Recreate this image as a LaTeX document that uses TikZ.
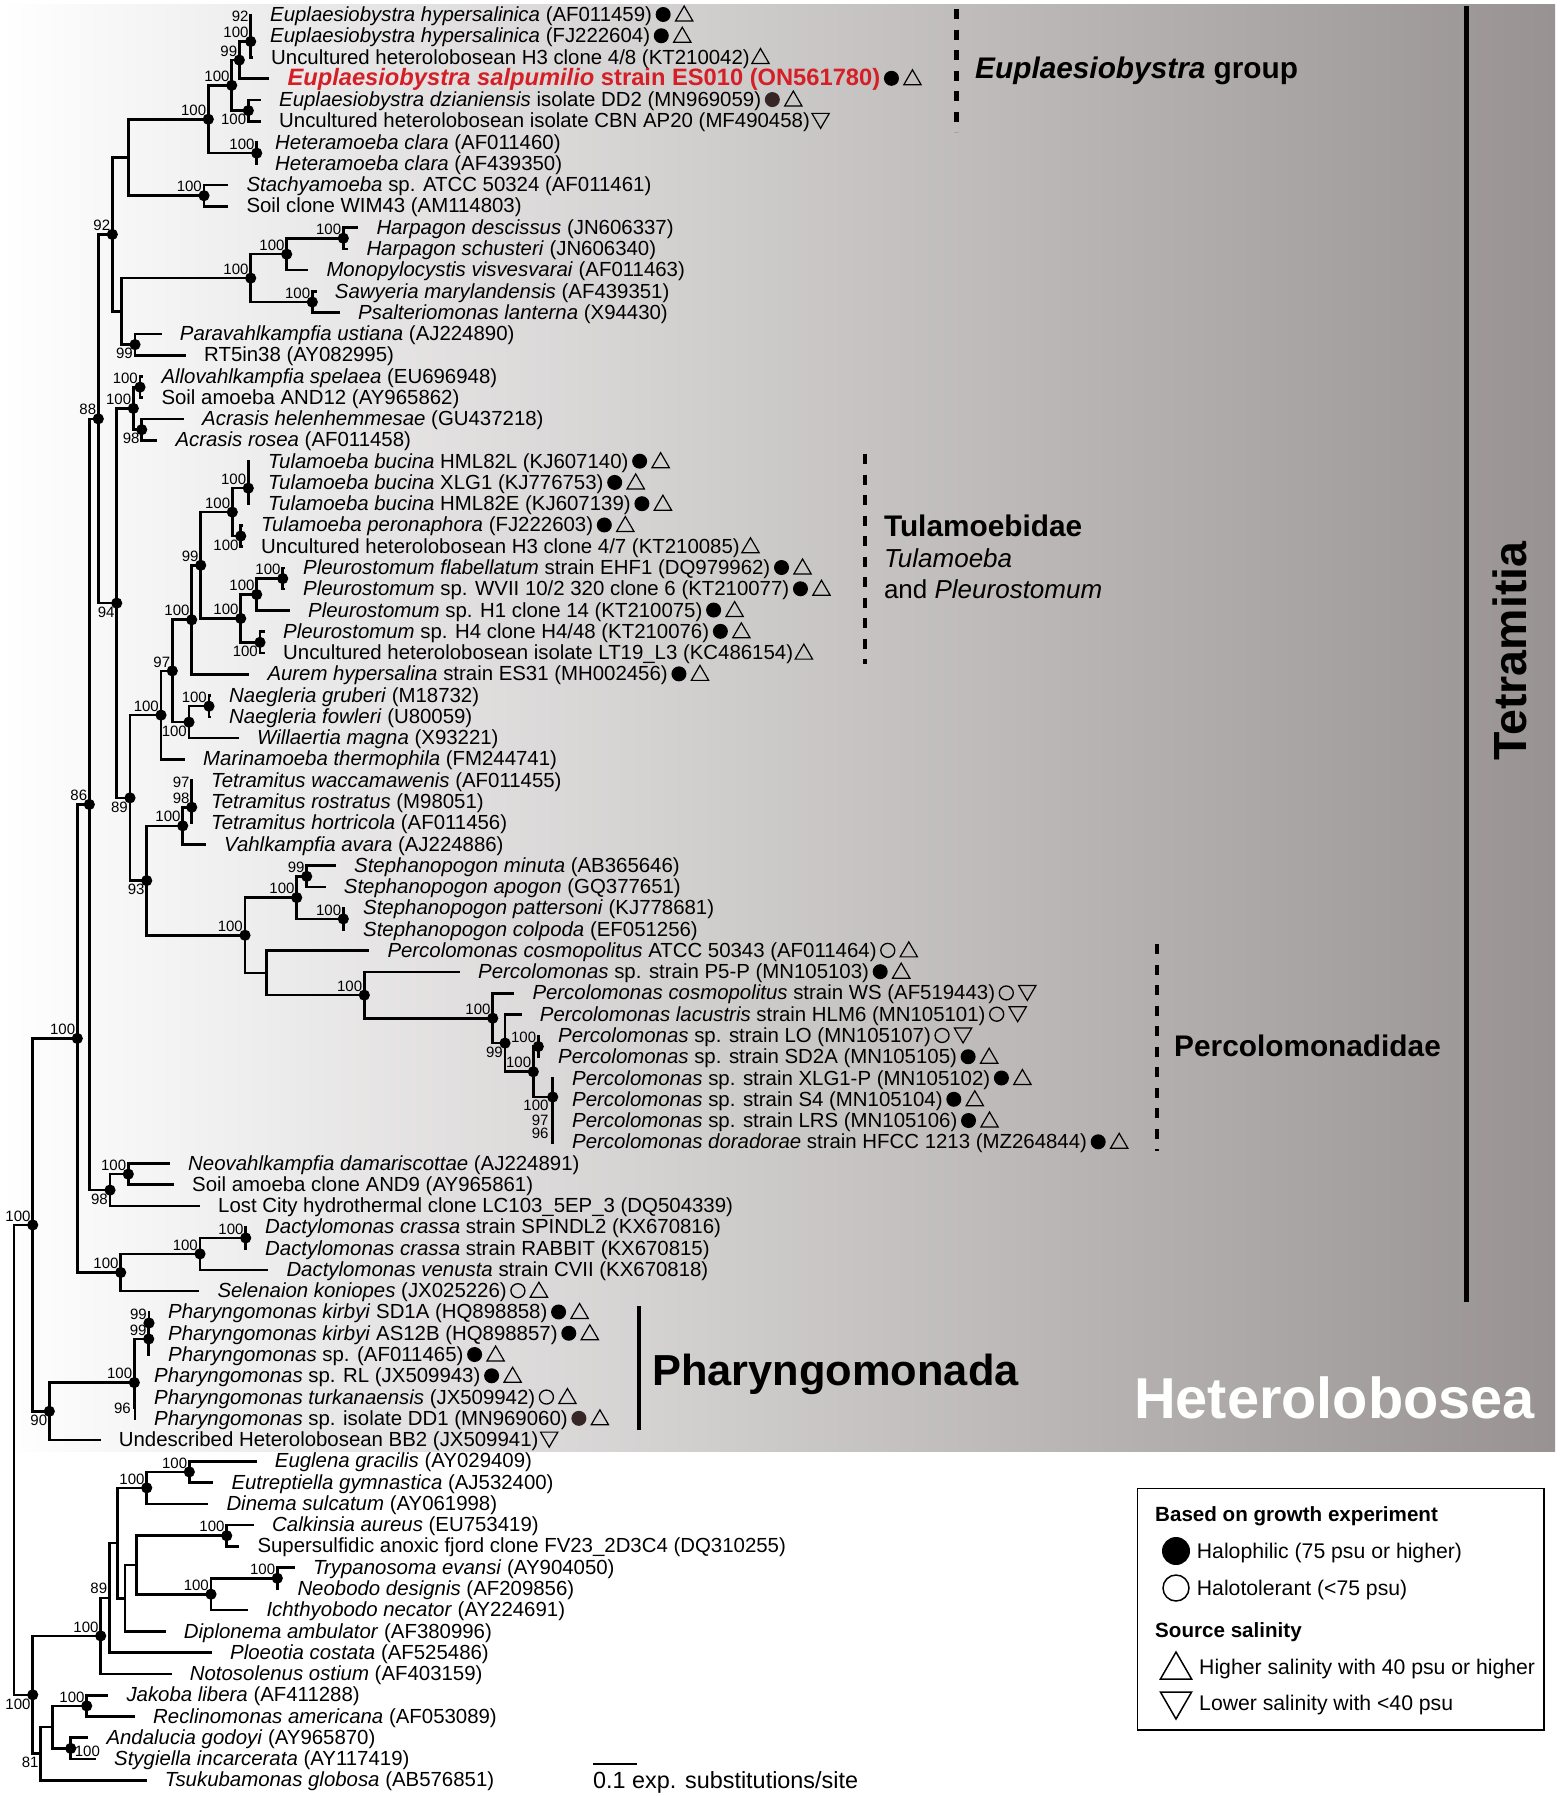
\documentclass[tikz,border=0pt]{standalone}
\usepackage{fontspec}
\setmainfont{Liberation Sans}
\usetikzlibrary{shapes.geometric}
\definecolor{redt}{RGB}{213,30,38}
\definecolor{bgr}{RGB}{152,147,146}
\definecolor{dbrown}{RGB}{55,38,38}
\newcommand\lfont{\fontsize{20.4}{22}\selectfont}
\newcommand\bsfont{\fontsize{15}{16}\selectfont}
\newcommand\lf[3]{\coordinate (t#1) at (#2,#1); \node[lt] (l#1) at ([xshift=18pt,yshift=-6.6pt]t#1) {#3};}
\newcommand\two[3]{\node[#2] (s#1a) at ([xshift=11pt]l#1.base east) {}; \node[#3] (s#1b) at ([xshift=32pt]l#1.base east) {};}
\newcommand\one[2]{\node[#2] (s#1a) at ([xshift=10.5pt]l#1.base east) {};}
\tikzset{
 br/.style={line width=2.6pt},
 lt/.style={anchor=base west, inner sep=0pt, font=\lfont},
 hc/.style={circle, fill=black, minimum size=15pt, inner sep=0pt, yshift=7pt},
 hcb/.style={hc, fill=dbrown},
 oc/.style={circle, draw=black, line width=1.3pt, minimum size=14pt, inner sep=0pt, yshift=7pt},
 tu/.style={regular polygon, regular polygon sides=3, draw=black, line width=1.2pt, minimum size=20pt, inner sep=0pt, yshift=5.5pt},
 td/.style={regular polygon, regular polygon sides=3, shape border rotate=180, draw=black, line width=1.2pt, minimum size=20pt, inner sep=0pt, yshift=9.5pt},
 ul/.style={anchor=south east, xshift=-2pt, yshift=3.5pt, inner sep=0pt, font=\bsfont},
 ll/.style={anchor=north east, xshift=-2pt, yshift=-3.5pt, inner sep=0pt, font=\bsfont},
 lc/.style={anchor=east, xshift=-4pt, inner sep=0pt, font=\bsfont},
 lcA/.style={lc, yshift=-8.5pt},
 lcB/.style={lc, yshift=-4.5pt},
 lcC/.style={lc, yshift=-2pt},
 rc/.style={anchor=west, xshift=4pt, yshift=-3pt, inner sep=0pt, font=\bsfont},
 dsh/.style={line width=4.2pt, dash pattern=on 10pt off 10.5pt},
 head/.style={anchor=base west, inner sep=0pt, font=\fontsize{29.8}{32}\selectfont\bfseries},
 sub/.style={anchor=base west, inner sep=0pt, font=\fontsize{26}{28}\selectfont},
 leg/.style={anchor=base west, inner sep=0pt, font=\fontsize{21.2}{23}\selectfont},
 legb/.style={anchor=base west, inner sep=0pt, font=\fontsize{20.6}{23}\selectfont\bfseries},
}
\begin{document}
\begin{tikzpicture}[x=1pt,y=-1pt]
\useasboundingbox (0,0) rectangle (1559,1796);
\shade[left color=white, right color=bgr] (0,4) rectangle (1555,1451);

\begin{scope}[y=-21.27pt, yshift=-14.9pt]
% internal nodes
\coordinate (A1) at (250.7,0.5);
\coordinate (A2) at (250.7,1.25);
\coordinate (A3) at (239.3,2.125);
\coordinate (A4) at (231.7,3.3125);
\coordinate (A5) at (248.3,4.5);
\coordinate (A6) at (208.3,4.90625);
\coordinate (A7) at (256.7,6.5);
\coordinate (A8) at (128.3,6.703);
\coordinate (A9) at (204,8.5);
\coordinate (B1) at (112.3,10.32);
\coordinate (B2) at (121.7,13.9375);
\coordinate (B3) at (250.7,12.375);
\coordinate (B4) at (286.7,11.25);
\coordinate (B5) at (343.3,10.5);
\coordinate (B6) at (312.3,13.5);
\coordinate (B7) at (135,15.5);
\coordinate (C1) at (98.3,18.99);
\coordinate (C2) at (133.3,18.5);
\coordinate (C3) at (140,17.5);
\coordinate (C4) at (141.7,19.5);
\coordinate (C5) at (116.7,27.655);
\coordinate (D1) at (130,36.81);
\coordinate (D2) at (161,32.92);
\coordinate (D3) at (172.3,30.84);
\coordinate (D4) at (191.7,28.4375);
\coordinate (D5) at (200.7,25.875);
\coordinate (D6) at (232.3,23.375);
\coordinate (D7) at (248.3,22.25);
\coordinate (D7a) at (248.3,21.5);
\coordinate (D8) at (240.7,24.5);
\coordinate (D9) at (240.7,28.375);
\coordinate (D10) at (256.7,27.25);
\coordinate (D11) at (282.7,26.5);
\coordinate (D12) at (260,29.5);
\coordinate (D13) at (189,33.25);
\coordinate (D14) at (209,32.5);
\coordinate (E1) at (146.7,40.70);
\coordinate (E2) at (182.7,38.125);
\coordinate (E3) at (191.7,37.25);
\coordinate (E3a) at (191.7,36.5);
\coordinate (E4) at (245,43.27);
\coordinate (E5) at (296.7,41.5);
\coordinate (E6) at (306.7,40.5);
\coordinate (E7) at (343.3,42.5);
\coordinate (F1) at (266.7,45.04);
\coordinate (F2) at (364.3,46.086);
\coordinate (F3) at (492.7,47.17);
\coordinate (F4) at (505,48.34);
\coordinate (F5) at (533.3,49.6875);
\coordinate (F6) at (538.3,48.5);
\coordinate (F7) at (552.7,50.875);
\coordinate (F7a) at (552.7,51.75);
\coordinate (F7b) at (552.7,52.5);
\coordinate (G1) at (89.3,37.12);
\coordinate (G2) at (110,55.25);
\coordinate (G3) at (128.3,54.5);
\coordinate (G4) at (77.3,48.12);
\coordinate (G5) at (120.7,59.125);
\coordinate (G6) at (200,58.25);
\coordinate (G7) at (245.7,57.5);
\coordinate (H1) at (32.7,56.89);
\coordinate (H2) at (49.3,65.65);
\coordinate (H3) at (134.3,64.3);
\coordinate (H4) at (148.7,62.25);
\coordinate (H5) at (149,61.5);
\coordinate (H6) at (135,65.5);
\coordinate (R) at (14,67.93);
\coordinate (I1) at (32.7,78.98);
\coordinate (I2) at (100.7,76.21);
\coordinate (I3) at (109.3,74.42);
\coordinate (I4) at (117.3,71.84);
\coordinate (I5) at (146.7,69.25);
\coordinate (I6) at (189.3,68.5);
\coordinate (I7) at (125,74.44);
\coordinate (I8) at (136.7,72.875);
\coordinate (I9) at (226.7,71.5);
\coordinate (I10) at (211,74.25);
\coordinate (I11) at (277.3,73.5);
\coordinate (J1) at (40.7,81.75);
\coordinate (J2) at (52.7,80.5);
\coordinate (J3) at (86.7,79.5);
\coordinate (J4) at (70.7,81.5);

% leaves
\lf{0}{252}{\textit{Euplaesiobystra hypersalinica} (AF011459)}
\lf{1}{252}{\textit{Euplaesiobystra hypersalinica} (FJ222604)}
\lf{2}{253}{Uncultured heterolobosean H3 clone 4/8 (KT210042)}
\lf{3}{269.3}{\fontsize{23.7}{25}\selectfont\color{redt}\bfseries\textit{Euplaesiobystra salpumilio} strain ES010 (ON561780)}
\lf{4}{261}{\textit{Euplaesiobystra dzianiensis} isolate DD2 (MN969059)}
\lf{5}{261}{Uncultured heterolobosean isolate CBN AP20 (MF490458)}
\lf{6}{257}{\textit{Heteramoeba clara} (AF011460)}
\lf{7}{257}{\textit{Heteramoeba clara} (AF439350)}
\lf{8}{228.3}{\textit{Stachyamoeba} sp. ATCC 50324 (AF011461)}
\lf{9}{228.3}{Soil clone WIM43 (AM114803)}
\lf{10}{358.3}{\textit{Harpagon descissus} (JN606337)}
\lf{11}{348.3}{\textit{Harpagon schusteri} (JN606340)}
\lf{12}{308.3}{\textit{Monopylocystis visvesvarai} (AF011463)}
\lf{13}{316.7}{\textit{Sawyeria marylandensis} (AF439351)}
\lf{14}{340}{\textit{Psalteriomonas lanterna} (X94430)}
\lf{15}{161.7}{\textit{Paravahlkampfia ustiana} (AJ224890)}
\lf{16}{186}{RT5in38 (AY082995)}
\lf{17}{143.3}{\textit{Allovahlkampfia spelaea} (EU696948)}
\lf{18}{143.3}{Soil amoeba AND12 (AY965862)}
\lf{19}{184}{\textit{Acrasis helenhemmesae} (GU437218)}
\lf{20}{157.3}{\textit{Acrasis rosea} (AF011458)}
\lf{21}{250}{\textit{Tulamoeba bucina} HML82L (KJ607140)}
\lf{22}{250}{\textit{Tulamoeba bucina} XLG1 (KJ776753)}
\lf{23}{250}{\textit{Tulamoeba bucina} HML82E (KJ607139)}
\lf{24}{243}{\textit{Tulamoeba peronaphora} (FJ222603)}
\lf{25}{243}{Uncultured heterolobosean H3 clone 4/7 (KT210085)}
\lf{26}{285}{\textit{Pleurostomum flabellatum} strain EHF1 (DQ979962)}
\lf{27}{285}{\textit{Pleurostomum} sp. WVII 10/2 320 clone 6 (KT210077)}
\lf{28}{290}{\textit{Pleurostomum} sp. H1 clone 14 (KT210075)}
\lf{29}{265}{\textit{Pleurostomum} sp. H4 clone H4/48 (KT210076)}
\lf{30}{265}{Uncultured heterolobosean isolate LT19\_L3 (KC486154)}
\lf{31}{249.3}{\textit{Aurem hypersalina} strain ES31 (MH002456)}
\lf{32}{211}{\textit{Naegleria gruberi} (M18732)}
\lf{33}{211}{\textit{Naegleria fowleri} (U80059)}
\lf{34}{239}{\textit{Willaertia magna} (X93221)}
\lf{35}{185}{\textit{Marinamoeba thermophila} (FM244741)}
\lf{36}{193}{\textit{Tetramitus waccamawenis} (AF011455)}
\lf{37}{193}{\textit{Tetramitus rostratus} (M98051)}
\lf{38}{193}{\textit{Tetramitus hortricola} (AF011456)}
\lf{39}{206}{\textit{Vahlkampfia avara} (AJ224886)}
\lf{40}{336}{\textit{Stephanopogon minuta} (AB365646)}
\lf{41}{325.7}{\textit{Stephanopogon apogon} (GQ377651)}
\lf{42}{345}{\textit{Stephanopogon pattersoni} (KJ778681)}
\lf{43}{345}{\textit{Stephanopogon colpoda} (EF051256)}
\lf{44}{369.3}{\textit{Percolomonas cosmopolitus} ATCC 50343 (AF011464)}
\lf{45}{460}{\textit{Percolomonas} sp. strain P5-P (MN105103)}
\lf{46}{514.3}{\textit{Percolomonas cosmopolitus} strain WS (AF519443)}
\lf{47}{521.7}{\textit{Percolomonas lacustris} strain HLM6 (MN105101)}
\lf{48}{540}{\textit{Percolomonas} sp. strain LO (MN105107)}
\lf{49}{540}{\textit{Percolomonas} sp. strain SD2A (MN105105)}
\lf{50}{554}{\textit{Percolomonas} sp. strain XLG1-P (MN105102)}
\lf{51}{554}{\textit{Percolomonas} sp. strain S4 (MN105104)}
\lf{52}{554}{\textit{Percolomonas} sp. strain LRS (MN105106)}
\lf{53}{554}{\textit{Percolomonas doradorae} strain HFCC 1213 (MZ264844)}
\lf{54}{170}{\textit{Neovahlkampfia damariscottae} (AJ224891)}
\lf{55}{174}{Soil amoeba clone AND9 (AY965861)}
\lf{56}{200}{Lost City hydrothermal clone LC103\_5EP\_3 (DQ504339)}
\lf{57}{247}{\textit{Dactylomonas crassa} strain SPINDL2 (KX670816)}
\lf{58}{247}{\textit{Dactylomonas crassa} strain RABBIT (KX670815)}
\lf{59}{268.3}{\textit{Dactylomonas venusta} strain CVII (KX670818)}
\lf{60}{199.3}{\textit{Selenaion koniopes} (JX025226)}
\lf{61}{150}{\textit{Pharyngomonas kirbyi} SD1A (HQ898858)}
\lf{62}{150}{\textit{Pharyngomonas kirbyi} AS12B (HQ898857)}
\lf{63}{150}{\textit{Pharyngomonas} sp. (AF011465)}
\lf{64}{136}{\textit{Pharyngomonas} sp. RL (JX509943)}
\lf{65}{136}{\textit{Pharyngomonas turkanaensis} (JX509942)}
\lf{66}{136}{\textit{Pharyngomonas} sp. isolate DD1 (MN969060)}
\lf{67}{100.7}{Undescribed Heterolobosean BB2 (JX509941)}
\lf{68}{256.7}{\textit{Euglena gracilis} (AY029409)}
\lf{69}{213.3}{\textit{Eutreptiella gymnastica} (AJ532400)}
\lf{70}{208.3}{\textit{Dinema sulcatum} (AY061998)}
\lf{71}{254}{\textit{Calkinsia aureus} (EU753419)}
\lf{72}{239.3}{Supersulfidic anoxic fjord clone FV23\_2D3C4 (DQ310255)}
\lf{73}{295}{\textit{Trypanosoma evansi} (AY904050)}
\lf{74}{279.3}{\textit{Neobodo designis} (AF209856)}
\lf{75}{248.3}{\textit{Ichthyobodo necator} (AY224691)}
\lf{76}{165.7}{\textit{Diplonema ambulator} (AF380996)}
\lf{77}{212}{\textit{Ploeotia costata} (AF525486)}
\lf{78}{171.7}{\textit{Notosolenus ostium} (AF403159)}
\lf{79}{108.3}{\textit{Jakoba libera} (AF411288)}
\lf{80}{135}{\textit{Reclinomonas americana} (AF053089)}
\lf{81}{88.3}{\textit{Andalucia godoyi} (AY965870)}
\lf{82}{96}{\textit{Stygiella incarcerata} (AY117419)}
\lf{83}{146.7}{\textit{Tsukubamonas globosa} (AB576851)}

% branches
\foreach \p/\c in {A1/t0,A1/t1,A2/A1,A2/t2,A3/A2,A3/t3,A5/t4,A5/t5,A4/A3,A4/A5,
 A7/t6,A7/t7,A6/A4,A6/A7,A9/t8,A9/t9,A8/A6,A8/A9,B5/t10,B5/t11,B4/B5,B4/t12,
 B6/t13,B6/t14,B3/B4,B3/B6,B7/t15,B7/t16,B2/B3,B2/B7,B1/A8,B1/B2,
 C3/t17,C3/t18,C4/t19,C4/t20,C2/C3,C2/C4,
 D7a/t21,D7a/t22,D7/D7a,D7/t23,D8/t24,D8/t25,D6/D7,D6/D8,D11/t26,D11/t27,
 D10/D11,D10/t28,D12/t29,D12/t30,D9/D10,D9/D12,D5/D6,D5/D9,D4/D5,D4/t31,
 D14/t32,D14/t33,D13/D14,D13/t34,D3/D4,D3/D13,D2/D3,D2/t35,
 E3a/t36,E3a/t37,E3/E3a,E3/t38,E2/E3,E2/t39,E6/t40,E6/t41,E7/t42,E7/t43,E5/E6,E5/E7,
 F6/t48,F6/t49,F7b/t52,F7b/t53,F7a/t51,F7a/F7b,F7/t50,F7/F7a,F5/F6,F5/F7,
 F4/t47,F4/F5,F3/t46,F3/F4,F2/t45,F2/F3,F1/t44,F1/F2,E4/E5,E4/F1,E1/E2,E1/E4,
 D1/D2,D1/E1,C5/C2,C5/D1,C1/B1,C1/C5,G3/t54,G3/t55,G2/G3,G2/t56,G1/C1,G1/G2,
 G7/t57,G7/t58,G6/G7,G6/t59,G5/G6,G5/t60,G4/G1,G4/G5,
 H5/t61,H5/t62,H4/H5,H4/t63,H6/t65,H6/t66,H3/H4,H3/t64,H3/H6,H2/H3,H2/t67,H1/G4,H1/H2,
 I6/t68,I6/t69,I5/I6,I5/t70,I9/t71,I9/t72,I11/t73,I11/t74,I10/I11,I10/t75,I8/I9,I8/I10,
 I7/I8,I7/t76,I4/I5,I4/I7,I3/I4,I3/t77,I2/I3,I2/t78,J3/t79,J3/t80,J4/t81,J4/t82,
 J2/J3,J2/J4,J1/J2,J1/t83,I1/I2,I1/J1,R/H1,R/I1}
 \draw[br] (\p) |- (\c);

% dots
\foreach \n in {A2,A3,A4,A5,A6,A7,A9,B1,B3,B4,B5,B6,B7,C1,C2,C3,C4,C5,D1,D2,D3,D4,D5,D6,D7,D8,D9,D10,D11,D12,D13,D14,
 E1,E2,E3,E4,E5,E6,E7,F2,F3,F4,F5,F6,F7,G1,G2,G3,G4,G5,G6,G7,H1,H2,H3,H4,H5,I1,I2,I5,I6,I9,I10,I11,J3,J4}
 \fill (\n) circle (5.6pt);

% support values
\foreach \n/\s/\v in {A1/ul/92,A2/ul/100,A3/ul/99,A4/ul/100,A5/ll/100,A6/ul/100,A7/ul/100,A9/ul/100,
 B1/ul/92,B3/ul/100,B4/ul/100,B5/ul/100,B6/ul/100,B7/ll/99,C1/ul/88,C2/ul/100,C3/ul/100,C4/ll/98,C5/ll/94,
 D1/ll/89,D2/ul/100,D3/ul/97,D4/ul/100,D5/ul/99,D6/ul/100,D7/ul/100,D8/ll/100,D9/ul/100,D10/ul/100,D11/ul/100,
 D12/ll/100,D13/ll/100,D14/ul/100,E1/ll/93,E2/ul/100,E3/ul/98,E3a/ul/97,E4/ul/100,E5/ul/100,E6/ul/99,E7/ul/100,
 F2/ul/100,F3/ul/100,F4/ll/99,F5/ul/100,F6/ul/100,F7/lcA/100,F7a/lcB/97,F7b/lcC/96,
 G1/ul/86,G2/ll/98,G3/ul/100,G4/ul/100,G5/ul/100,G6/ul/100,G7/ul/100,
 H1/ul/100,H2/ll/90,H3/ul/100,H4/ul/99,H5/ul/99,H6/lc/96,
 I1/ll/100,I2/ul/100,I3/ul/89,I5/ul/100,I6/ul/100,I9/ul/100,I10/ul/100,I11/ul/100,
 J1/ll/81,J3/ul/100,J4/rc/100}
 \node[\s] at (\n) {\v};

% salinity symbols
\two{0}{hc}{tu} \two{1}{hc}{tu} \one{2}{tu} \two{3}{hc}{tu} \two{4}{hcb}{tu} \one{5}{td}
\two{21}{hc}{tu} \two{22}{hc}{tu} \two{23}{hc}{tu} \two{24}{hc}{tu} \one{25}{tu}
\two{26}{hc}{tu} \two{27}{hc}{tu} \two{28}{hc}{tu} \two{29}{hc}{tu} \one{30}{tu} \two{31}{hc}{tu}
\two{44}{oc}{tu} \two{45}{hc}{tu} \two{46}{oc}{td} \two{47}{oc}{td} \two{48}{oc}{td}
\two{49}{hc}{tu} \two{50}{hc}{tu} \two{51}{hc}{tu} \two{52}{hc}{tu} \two{53}{hc}{tu}
\two{60}{oc}{tu} \two{61}{hc}{tu} \two{62}{hc}{tu} \two{63}{hc}{tu} \two{64}{hc}{tu}
\two{65}{oc}{tu} \two{66}{hcb}{tu} \one{67}{td}
\end{scope}

% clade annotations
\coordinate (ea) at (956.5,9); \coordinate (eb) at (956.5,132);
\draw[dsh] (ea) -- (eb);
\node[head] (eg) at (975,78) {\textit{Euplaesiobystra} group};
\coordinate (ta) at (865,454); \coordinate (tb) at (865,664);
\draw[dsh] (ta) -- (tb);
\node[head] (tg) at (883.8,536) {Tulamoebidae};
\node[sub] (tg2) at (883.8,567.7) {\textit{Tulamoeba}};
\node[sub] (tg3) at (883.8,598.3) {and \textit{Pleurostomum}};
\coordinate (pa) at (1157,944); \coordinate (pb) at (1157,1151);
\draw[dsh] (pa) -- (pb);
\node[head] (pg) at (1174,1056.7) {Percolomonadidae};
\coordinate (ha) at (639,1306); \coordinate (hb) at (639,1430);
\draw[line width=4.5pt] (ha) -- (hb);
\node[head, font=\fontsize{43.4}{45}\selectfont\bfseries] (hg) at (652,1385) {Pharyngomonada};
\coordinate (tma) at (1466,6); \coordinate (tmb) at (1466,1302);
\draw[line width=5pt] (tma) -- (tmb);
\node[rotate=90, inner sep=0pt, font=\fontsize{46.5}{48}\selectfont\bfseries] (tm) at (1510,651) {Tetramitia};
\node[head, text=white, font=\fontsize{57.7}{60}\selectfont\bfseries] (het) at (1134,1418) {Heterolobosea};

% scale bar
\coordinate (sa) at (593,1764); \coordinate (sb) at (637,1764);
\draw[line width=2pt] (sa) -- (sb);
\node[anchor=base west, inner sep=0pt, font=\fontsize{23.4}{25}\selectfont] (sl) at (593,1788) {0.1 exp. substitutions/site};

% legend
\draw[line width=1.5pt] (1137.5,1488.5) rectangle (1544,1730);
\node[legb] (lg1) at (1155,1521.8) {Based on growth experiment};
\node[circle, fill=black, minimum size=28pt, inner sep=0pt] (lc1) at (1176,1551) {};
\node[leg] (lt1) at (1196.7,1558.5) {Halophilic (75 psu or higher)};
\node[circle, draw=black, line width=1.5pt, minimum size=26pt, inner sep=0pt] (lc2) at (1176,1588) {};
\node[leg] (lt2) at (1196.7,1595.2) {Halotolerant (<75 psu)};
\node[legb] (lg2) at (1155,1637.5) {Source salinity};
\node[regular polygon, regular polygon sides=3, draw=black, line width=1.5pt, minimum size=36pt, inner sep=0pt] (lt3s) at (1176,1670) {};
\node[leg] (lt3) at (1199,1674.2) {Higher salinity with 40 psu or higher};
\node[regular polygon, regular polygon sides=3, shape border rotate=180, draw=black, line width=1.5pt, minimum size=36pt, inner sep=0pt] (lt4s) at (1176,1701) {};
\node[leg] (lt4) at (1199,1710.8) {Lower salinity with <40 psu};
\end{tikzpicture}
\end{document}
